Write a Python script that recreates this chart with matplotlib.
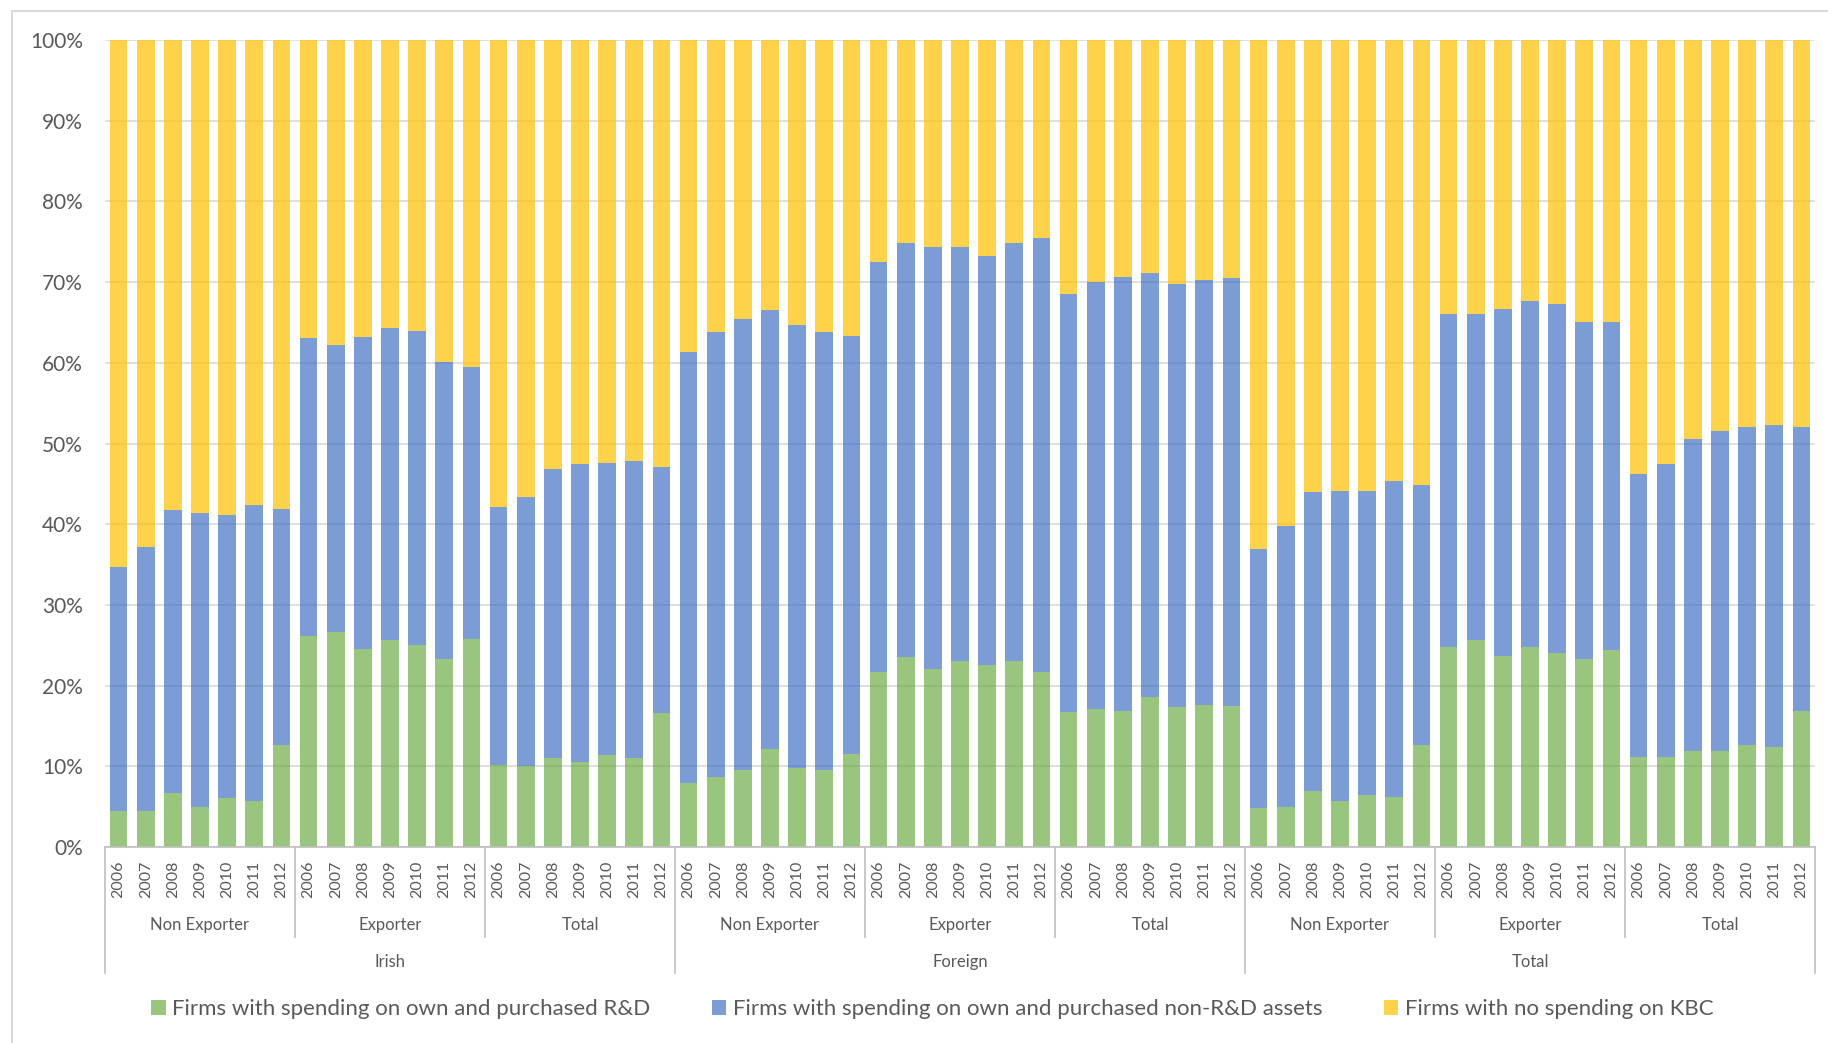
import numpy as np
import matplotlib
matplotlib.use("Agg")
import matplotlib.pyplot as plt
from matplotlib.patches import Patch
from matplotlib.lines import Line2D
from matplotlib.ticker import PercentFormatter
from matplotlib.transforms import blended_transform_factory

plt.rcParams['font.family'] = ['Lato', 'DejaVu Sans']

years = ['2006', '2007', '2008', '2009', '2010', '2011', '2012']
groups = ['Non Exporter', 'Exporter', 'Total']
regions = ['Irish', 'Foreign', 'Total']

# share of firms (%) with spending on own and purchased R&D, one row per region/group
rd_share = [
    [4.5, 4.5, 6.7, 5.0, 6.1, 5.7, 12.7],
    [26.1, 26.6, 24.5, 25.7, 25.0, 23.3, 25.8],
    [10.2, 10.0, 11.0, 10.5, 11.4, 11.0, 16.6],
    [7.9, 8.7, 9.5, 12.1, 9.8, 9.6, 11.5],
    [21.7, 23.6, 22.1, 23.1, 22.6, 23.1, 21.7],
    [16.7, 17.1, 16.8, 18.6, 17.4, 17.6, 17.5],
    [4.8, 5.0, 7.0, 5.7, 6.5, 6.2, 12.6],
    [24.8, 25.7, 23.7, 24.8, 24.1, 23.3, 24.4],
    [11.2, 11.1, 11.9, 11.9, 12.6, 12.4, 16.8],
]
# share of firms (%) with spending on own and purchased non-R&D assets
nonrd_share = [
    [30.2, 32.7, 35.0, 36.4, 35.1, 36.7, 29.2],
    [37.0, 35.6, 38.7, 38.6, 39.0, 36.8, 33.7],
    [31.9, 33.4, 35.9, 36.9, 36.2, 36.8, 30.5],
    [53.5, 55.1, 55.9, 54.4, 54.9, 54.2, 51.8],
    [50.8, 51.2, 52.2, 51.2, 50.6, 51.7, 53.8],
    [51.8, 52.9, 53.8, 52.5, 52.4, 52.7, 53.0],
    [32.1, 34.8, 37.0, 38.4, 37.6, 39.1, 32.3],
    [41.2, 40.3, 43.0, 42.9, 43.2, 41.7, 40.7],
    [35.0, 36.4, 38.6, 39.7, 39.5, 39.9, 35.3],
]

labels = ['Firms with spending on own and purchased R&D',
          'Firms with spending on own and purchased non-R&D assets',
          'Firms with no spending on KBC']
colors = ['#70AD47', '#4472C4', '#FFC000']

rd = np.array(rd_share).ravel() / 100
nonrd = np.array(nonrd_share).ravel() / 100
none = 1 - rd - nonrd
n = len(rd)
x = np.arange(n)

W, H = 1828, 1043
fig = plt.figure(figsize=(W / 100, H / 100), dpi=100)
left_px, right_px, top_px, bottom_px = 105, 1815, 40, 847
ax = fig.add_axes([left_px / W, 1 - bottom_px / H,
                   (right_px - left_px) / W, (bottom_px - top_px) / H])

bw = 0.65
ax.bar(x, rd, bw, color=colors[0], alpha=0.7, zorder=2, label=labels[0])
ax.bar(x, nonrd, bw, bottom=rd, color=colors[1], alpha=0.7, zorder=2, label=labels[1])
ax.bar(x, none, bw, bottom=rd + nonrd, color=colors[2], alpha=0.7, zorder=2, label=labels[2])

ax.set_xlim(-0.5, n - 0.5)
ax.set_ylim(0, 1)
ax.set_yticks(np.arange(0, 1.01, 0.1))
ax.yaxis.set_major_formatter(PercentFormatter(1.0, decimals=0))
ax.grid(axis='y', color='#D9D9D9', linewidth=1.2, zorder=0)
ax.set_axisbelow(True)
for s in ['top', 'right', 'left']:
    ax.spines[s].set_visible(False)
ax.spines['bottom'].set_color('#BFBFBF')
ax.spines['bottom'].set_linewidth(1.2)
ax.tick_params(axis='y', length=0, pad=16, labelsize=15, labelcolor='#595959')

ax.set_xticks(x)
ax.set_xticklabels(years * (len(regions) * len(groups)), rotation=90)
ax.tick_params(axis='x', length=0, pad=10, labelsize=11.5, labelcolor='#595959')

# multi-level category labels and separators
trans = blended_transform_factory(ax.transData, fig.transFigure)
line_col = '#BFBFBF'
def fy(px):
    return 1 - px / H

for r, region in enumerate(regions):
    r0 = r * 21 - 0.5
    for g, group in enumerate(groups):
        g0 = r0 + g * 7
        ax.text(g0 + 3.5, fy(925), group, transform=trans, ha='center', va='center',
                fontsize=12, color='#595959')
        if g > 0:
            fig.add_artist(Line2D([g0, g0], [fy(847), fy(937)], transform=trans,
                                  color=line_col, linewidth=1.2))
    ax.text(r0 + 10.5, fy(962), region, transform=trans, ha='center', va='center',
            fontsize=12, color='#595959')
    fig.add_artist(Line2D([r0, r0], [fy(847), fy(973)], transform=trans,
                          color=line_col, linewidth=1.2))
fig.add_artist(Line2D([n - 0.5, n - 0.5], [fy(847), fy(973)], transform=trans,
                      color=line_col, linewidth=1.2))

# chart frame
fig.add_artist(Line2D([12 / W, 12 / W, 1.0], [0.0, fy(11), fy(11)],
                      transform=fig.transFigure, color='#D9D9D9', linewidth=1.5))

handles = [Patch(facecolor=c, alpha=0.7, label=l) for c, l in zip(colors, labels)]
fig.legend(handles=handles, loc='center', bbox_to_anchor=(0.51, fy(1009)), ncol=3,
           frameon=False, fontsize=16, handlelength=0.65, handleheight=0.65,
           handletextpad=0.3, columnspacing=2.75, labelcolor='#595959')

fig.savefig('out.png', dpi=100)
